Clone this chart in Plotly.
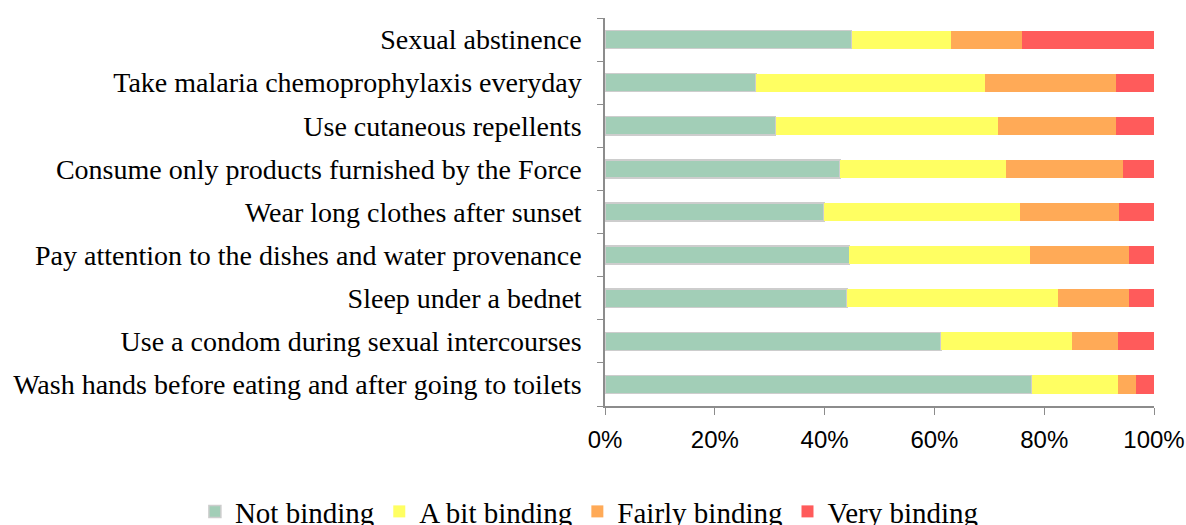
import plotly.graph_objects as go

categories = [
    "Wash hands before eating and after going to toilets",
    "Use a condom during sexual intercourses",
    "Sleep under a bednet",
    "Pay attention to the dishes and water provenance",
    "Wear long clothes after sunset",
    "Consume only products furnished by the Force",
    "Use cutaneous repellents",
    "Take malaria chemoprophylaxis everyday",
    "Sexual abstinence",
]
not_binding =    [77.7, 61.2, 44.1, 44.5, 39.9, 42.8, 31.1, 27.5, 44.9]
a_bit_binding =  [15.8, 23.8, 38.4, 32.9, 35.6, 30.3, 40.5, 41.7, 18.1]
fairly_binding = [3.2, 8.4, 13.0, 18.1, 18.2, 21.2, 21.4, 23.8, 12.9]
very_binding =   [3.3, 6.6, 4.5, 4.5, 6.3, 5.7, 7.0, 7.0, 24.1]

series = [
    ("Not binding", not_binding, "#A2CEB7", "rgba(205,205,205,1)", 1.5),
    ("A bit binding", a_bit_binding, "#FFFF62", "rgba(255,255,98,1)", 0),
    ("Fairly binding", fairly_binding, "#FFAA57", "rgba(255,170,87,1)", 0),
    ("Very binding", very_binding, "#FF5B5B", "rgba(255,91,91,1)", 0),
]

fig = go.Figure()
for name, vals, color, lc, lw in series:
    fig.add_trace(go.Bar(
        y=categories, x=vals, name=name, orientation="h",
        marker=dict(color=color, line=dict(color=lc, width=lw)),
    ))

fig.update_layout(
    barmode="stack",
    barnorm="percent",
    bargap=0.58,
    width=1186, height=525,
    margin=dict(l=605, r=32, t=18, b=119, autoexpand=False),
    paper_bgcolor="white", plot_bgcolor="white",
    showlegend=True,
    legend=dict(
        orientation="h", traceorder="normal",
        x=-0.747, xanchor="left",
        y=-0.272, yanchor="middle",
        font=dict(family="Liberation Serif", size=29, color="black"),
        itemwidth=30, tracegroupgap=0,
    ),
    font=dict(family="Liberation Serif", color="black"),
)
fig.update_xaxes(
    range=[0, 100], tickvals=[0, 20, 40, 60, 80, 100],
    ticktext=["0%", "20%", "40%", "60%", "80%", "100%"],
    ticks="outside", ticklen=7, tickcolor="#8c8c8c",
    showline=True, linecolor="#8c8c8c", linewidth=1.5,
    showgrid=False, zeroline=False, automargin=False, ticklabelstandoff=4,
    tickfont=dict(family="Liberation Sans", size=24, color="black"),
)
fig.update_yaxes(
    categoryorder="array", categoryarray=categories,
    ticks="outside", tickson="boundaries", ticklen=6, tickcolor="#8c8c8c",
    showline=True, linecolor="#8c8c8c", linewidth=1.5,
    showgrid=False, zeroline=False, ticklabelstandoff=16, automargin=False,
    tickfont=dict(family="Liberation Serif", size=28, color="black"),
)

fig.write_html("out.html", config={"displayModeBar": False},
               post_script="document.body.style.margin='0';")
